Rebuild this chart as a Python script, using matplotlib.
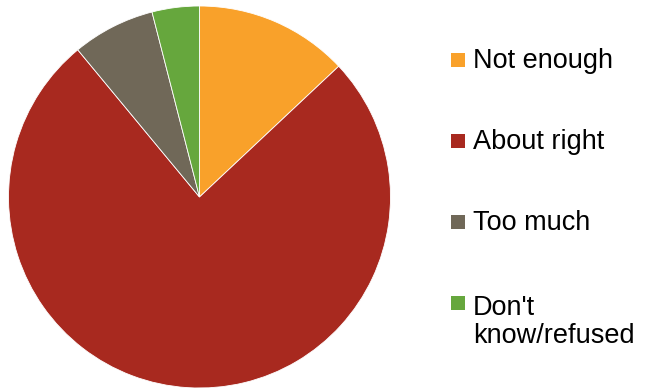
import matplotlib.pyplot as plt
from matplotlib.patches import Rectangle

labels = ["Not enough", "About right", "Too much", "Don't\nknow/refused"]
shares = [13, 76, 7, 4]
colors = ["#F9A12A", "#A8291F", "#706858", "#66A73D"]

plt.rcParams['font.family'] = ['Liberation Sans', 'DejaVu Sans']

W, H = 648, 390
fig = plt.figure(figsize=(W / 100, H / 100), dpi=100)

# pie centred at (199.5, 197) px, radius 191 px
cx, cy, r = 199.5, 197, 191
ax = fig.add_axes([(cx - r) / W, (H - cy - r) / H, 2 * r / W, 2 * r / H])
ax.pie(shares, colors=colors, startangle=90, counterclock=False,
       wedgeprops=dict(edgecolor='white', linewidth=0.6))
ax.set_xlim(-1, 1)
ax.set_ylim(-1, 1)
ax.axis('off')

# legend on the right, drawn by hand
sq = 14
line_h = 31.6
for i, (lab, col) in enumerate(zip(labels, colors)):
    yc = 59.5 + 81 * i
    fig.add_artist(Rectangle((451 / W, (H - yc - sq / 2) / H), sq / W, sq / H,
                             transform=fig.transFigure, facecolor=col, edgecolor='none'))
    # baseline of a multi-line label is its last line
    extra = lab.count('\n') * line_h
    fig.text(473 / W, (H - yc - 8.5 - extra) / H, lab, fontsize=19.5,
             va='baseline', ha='left', linespacing=1.1)

fig.savefig('out.png', dpi=100)
